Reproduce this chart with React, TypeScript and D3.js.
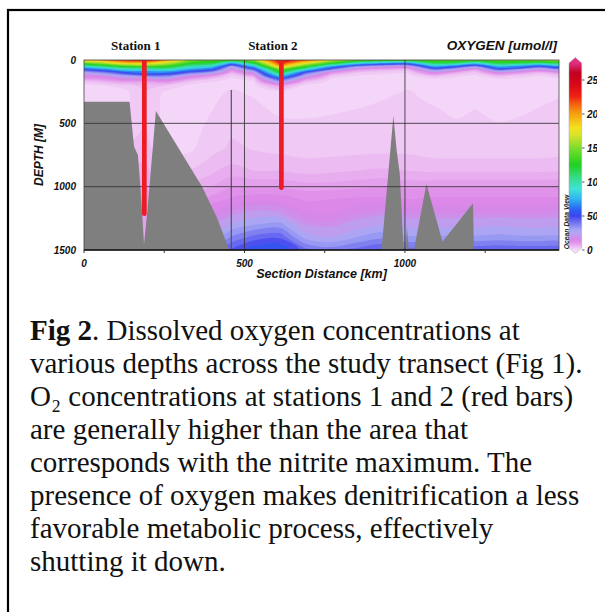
import React from "react";
import * as d3 from "d3";

// ODV section grid: distance columns (km) and depth rows (m)
const sectionKm = [0, 60, 120, 190, 260, 330, 400, 460, 530, 610, 690, 770, 850, 930, 1010, 1090, 1160, 1220, 1290, 1360, 1420, 1480];
const sectionDepth = [0, 25, 50, 75, 100, 125, 150, 175, 200, 250, 300, 400, 500, 600, 700, 800, 900, 1000, 1100, 1200, 1300, 1400, 1500];

// oxygen (umol/l) read along each depth row
const o2At0 = [190, 205, 225, 240, 200, 155, 140, 140, 160, 240, 215, 170, 145, 140, 140, 140, 145, 145, 145, 150, 155, 160];
const o2At25 = [140, 160, 185, 185, 165, 130, 120, 70, 120, 225, 175, 130, 90, 70, 65, 115, 110, 85, 120, 115, 105, 115];
const o2At50 = [90, 110, 130, 140, 130, 100, 85, 30, 80, 195, 135, 75, 35, 22, 20, 75, 55, 35, 80, 68, 48, 68];
const o2At75 = [50, 65, 85, 85, 95, 70, 55, 14, 45, 150, 90, 38, 11, 7, 6, 38, 22, 9, 45, 30, 18, 30];
const o2At100 = [25, 35, 50, 65, 60, 42, 28, 6, 20, 120, 45, 11, 4, 2.5, 2.2, 15, 7, 3, 15, 9, 5, 9];
const o2At125 = [15, 18, 28, 38, 38, 18, 10, 2.5, 9, 85, 25, 4, 1.8, 1.5, 1.4, 5, 2.5, 1.6, 5, 3, 2, 3];
const o2At150 = [9, 11, 15, 16, 20, 9, 4, 1.5, 3, 50, 11, 1.8, 1.3, 1.2, 1.1, 2, 1.4, 1.2, 2, 1.6, 1.4, 1.6];
const o2At175 = [3, 5, 8, 8, 10, 3, 2, 1.3, 1.5, 25, 4, 1.3, 1.1, 1, 1.1, 1.4, 1.1, 1, 1.4, 1.2, 1.1, 1.3];
const o2At200 = [1.5, 2, 3, 5, 4, 1.5, 1.5, 1.6, 1.3, 9, 1.5, 1.1, 1, 1, 1.6, 1.2, 1, 1, 1.2, 1.1, 1, 1.2];
const o2At250 = [1, 1, 1.2, 4, 1.5, 1, 1.2, 2.3, 1.5, 1.5, 1.2, 1, 1, 1.3, 2.2, 1.1, 1, 1, 1, 1, 1.1, 1.5];
const o2At300 = [1, 1, 1, 4, 1, 1, 1.5, 2.8, 2, 1.2, 1, 1, 1.3, 1.9, 2.4, 1.5, 1, 1.3, 1, 1.1, 1.5, 2];
const o2At400 = [1, 1, 1.2, 4, 1, 1, 2, 3.3, 2.6, 1.6, 1.5, 1.8, 2.1, 2.4, 2.6, 2.3, 1.5, 2.1, 1.3, 1.7, 2.2, 2.4];
const o2At500 = [1.5, 1.5, 2, 4, 1, 1, 2.5, 3.6, 3, 2.4, 2.3, 2.4, 2.5, 2.7, 2.8, 2.7, 2.3, 2.6, 2.1, 2.4, 2.5, 2.6];
const o2At600 = [2.5, 2.5, 3, 4.5, 1.2, 1.2, 3, 3.9, 3.4, 3, 2.8, 2.8, 2.9, 3, 3.1, 3, 2.8, 2.9, 2.7, 2.8, 2.8, 2.9];
const o2At700 = [3.5, 3.5, 4, 5, 1.5, 1.6, 3.5, 4.3, 3.9, 3.6, 3.4, 3.4, 3.5, 3.5, 3.6, 3.4, 3.3, 3.3, 3.3, 3.3, 3.3, 3.4];
const o2At800 = [5, 5, 5, 6, 2.5, 3, 4.5, 5.5, 4.6, 4.5, 4.2, 4.3, 4.5, 4.8, 4.5, 4.2, 4.2, 4.2, 4.2, 4.2, 4.2, 4.3];
const o2At900 = [7, 7, 7, 7, 4, 4.5, 6, 7.5, 6.5, 6.5, 6, 6.2, 6.5, 7, 6.5, 6.3, 6.3, 6.3, 6.3, 6.3, 6.3, 6.4];
const o2At1000 = [10, 10, 10, 8, 6, 6.5, 8, 10, 10, 10, 9, 9, 9.5, 10, 9.5, 9.8, 9.8, 9.8, 9.8, 9.8, 9.8, 9.8];
const o2At1100 = [13, 13, 13, 9, 8, 9, 11, 13, 14, 14, 12, 12.5, 13, 13, 12.5, 13, 13, 13, 13, 13, 13, 13];
const o2At1200 = [15, 15, 15, 9, 10, 11, 15, 18, 21, 20, 15, 14, 17, 18, 17, 17, 17, 17, 17, 17, 17, 17];
const o2At1300 = [18, 18, 18, 8, 12, 14, 20, 26, 30, 32, 20, 19, 22, 25, 23, 23, 23, 23, 24, 23, 23, 23];
const o2At1400 = [22, 22, 22, 7.5, 15, 18, 26, 36, 42, 44, 28, 25, 30, 34, 31, 31, 31, 31, 32, 31, 31, 31];
const o2At1500 = [26, 26, 26, 7, 18, 22, 34, 46, 54, 56, 42, 38, 42, 46, 42, 44, 44, 44, 45, 44, 44, 44];

const oxygenRows = [o2At0, o2At25, o2At50, o2At75, o2At100, o2At125, o2At150, o2At175, o2At200, o2At250, o2At300,
  o2At400, o2At500, o2At600, o2At700, o2At800, o2At900, o2At1000, o2At1100, o2At1200, o2At1300, o2At1400, o2At1500];

// bottom topography
const floorKm = [0, 142, 156, 168, 174, 181, 187, 193, 197, 224, 368, 413, 433, 452, 927, 964, 974, 984, 991, 995, 1002, 1006, 1012, 1028, 1067, 1117, 1212, 1215, 1480];
const floorDepth = [330, 330, 684, 750, 947, 1208, 1455, 1300, 1210, 402, 1000, 1237, 1368, 1500, 1500, 440, 710, 900, 1260, 1500, 1500, 1320, 1500, 1500, 979, 1434, 1131, 1500, 1500];

const stationNames = ["Station 1", "Station 2"];
const stationKm = [188, 615];
const stationBottom = [1231, 1026];

const xTicks = [0, 500, 1000];
const xMinorTicks = [250, 750, 1250];
const yTicks = [0, 500, 1000, 1500];
const colorTicks = [0, 50, 100, 150, 200, 250];

const oxygenLevels = [2, 4, 6, 8, 10, 12.5, 15, 17.5, 20, 25, 30, 35, 40, 45, 50, 60, 75, 90, 105, 120, 135, 150, 165, 180, 195, 210, 225, 240];
const paletteStops = [0, 2, 4, 6, 8, 10, 13, 17, 21, 25, 30, 35, 40, 45, 50, 60, 75, 90, 105, 125, 150, 170, 180, 200, 215, 225, 240, 260, 275];
const paletteColors = ["#f5dcf9", "#f2cff6", "#eec2f3", "#eab4f0", "#e6a6ee", "#e298eb", "#dc88e8", "#d488e8", "#c498ec", "#b4a4f2",
  "#a4a6f4", "#8c8cf2", "#7474f0", "#5c5cf0", "#3c44ee", "#2a64f0", "#30b4f2", "#40e2d8", "#38dc90", "#20d020", "#7cdc2c",
  "#dce428", "#f4e020", "#f8a010", "#f46010", "#f02414", "#dc0c18", "#c00020", "#e03080"];

const captionLines = [
  "various depths across the study transect (Fig 1).",
  "O\u2082 concentrations at stations 1 and 2 (red bars)",
  "are generally higher than the area that",
  "corresponds with the nitrite maximum. The",
  "presence of oxygen makes denitrification a less",
  "favorable metabolic process, effectively",
  "shutting it down.",
];

const sans = "'Liberation Sans', Arial, sans-serif";
const serif = "'Liberation Serif', 'Times New Roman', serif";

export default function App() {
  const x = d3.scaleLinear().domain([0, 1480]).range([84, 559]);
  const y = d3.scaleLinear().domain([0, 1500]).range([60, 250]);
  const cb = d3.scaleLinear().domain([0, 250]).range([250, 80]);
  const color = d3.scaleLinear<string>().domain(paletteStops).range(paletteColors).interpolate(d3.interpolateRgb).clamp(true);

  // filled contours on the section grid
  const nx = sectionKm.length;
  const ny = sectionDepth.length;
  const kmAt = d3.scaleLinear().domain(d3.range(nx)).range(sectionKm);
  const depthAt = d3.scaleLinear().domain(d3.range(ny)).range(sectionDepth);
  const bands = d3.contours().size([nx, ny]).thresholds(oxygenLevels)(oxygenRows.flat());
  const ringLine = d3.line<number[]>()
    .x((p) => x(kmAt(p[0] - 0.5)))
    .y((p) => y(depthAt(p[1] - 0.5)))
    .curve(d3.curveCatmullRomClosed.alpha(0.5));
  const bandPath = (b: any) =>
    b.coordinates.map((poly: number[][][]) => poly.map((ring) => ringLine(ring.slice(0, -1))).join("")).join("");
  const bandColor = (i: number) => {
    const lo = oxygenLevels[i];
    const hi = i < oxygenLevels.length - 1 ? oxygenLevels[i + 1] : lo + 15;
    return color((lo + hi) / 2);
  };

  const floorArea = d3.area<number>()
    .x((d, i) => x(floorKm[i]))
    .y0(y(1500))
    .y1((d) => y(d));

  const top = y(0), bottom = y(1500), left = x(0), right = x(1480);

  return (
    <svg width={605} height={612} style={{ position: "absolute", left: 0, top: 0, background: "#fff" }}>
      <defs>
        <clipPath id="plot">
          <rect x={left} y={top} width={right - left} height={bottom - top} />
        </clipPath>
        <clipPath id="edge">
          <rect x={0} y={0} width={597} height={612} />
        </clipPath>
        <linearGradient id="cbar" gradientUnits="userSpaceOnUse" x1={0} x2={0} y1={cb(0)} y2={cb(275)}>
          {d3.range(0, 276, 5).map((v) => (
            <stop key={v} offset={v / 275} stopColor={color(v)} />
          ))}
        </linearGradient>
      </defs>

      <rect x={8} y={10} width={640} height={640} fill="none" stroke="#000" strokeWidth={2.2} />

      <g clipPath="url(#plot)">
        <rect x={left} y={top} width={right - left} height={bottom - top} fill={color(1)} />
        {bands.map((b, i) => (
          <path key={i} d={bandPath(b)} fill={bandColor(i)} fillRule="evenodd" />
        ))}
        <path d={floorArea(floorDepth) || ""} fill="#7f7f7f" />
        <line x1={x(459)} x2={x(459)} y1={y(237)} y2={bottom} stroke="#555" strokeWidth={1.2} />
        {[500, 1000].map((v) => (
          <line key={"gx" + v} x1={x(v)} x2={x(v)} y1={top} y2={bottom} stroke="#333" strokeWidth={1} opacity={0.85} />
        ))}
        {[500, 1000].map((v) => (
          <line key={"gy" + v} x1={left} x2={right} y1={y(v)} y2={y(v)} stroke="#333" strokeWidth={1} opacity={0.85} />
        ))}
        {stationKm.map((s, i) => (
          <line key={s} x1={x(s)} x2={x(s)} y1={top - 5} y2={y(stationBottom[i]) - 2.3} stroke="#ed1c24" strokeWidth={4.7} strokeLinecap="round" />
        ))}
      </g>
      <rect x={left} y={top} width={right - left} height={bottom - top} fill="none" stroke="#444" strokeWidth={0.8} />
      <line x1={left} x2={right} y1={bottom} y2={bottom} stroke="#111" strokeWidth={1.6} />

      {xTicks.concat(xMinorTicks).map((v) => (
        <line key={"t" + v} x1={x(v)} x2={x(v)} y1={bottom} y2={bottom + 3} stroke="#333" strokeWidth={1} />
      ))}
      <g fontFamily={sans} fontWeight="bold" fontStyle="italic" fontSize={10} fill="#111">
        {xTicks.map((v) => (
          <text key={v} x={x(v)} y={266.5} textAnchor="middle">{v}</text>
        ))}
        {yTicks.map((v) => (
          <text key={v} x={76} y={y(v) + 3.6} textAnchor="end">{v}</text>
        ))}
      </g>
      <text x={(left + right) / 2} y={278} textAnchor="middle" fontFamily={sans} fontWeight="bold" fontStyle="italic" fontSize={12.5} fill="#111">
        Section Distance [km]
      </text>
      <text transform={`translate(43,${(top + bottom) / 2}) rotate(-90)`} textAnchor="middle" fontFamily={sans} fontWeight="bold" fontStyle="italic" fontSize={12} fill="#111">
        DEPTH [M]
      </text>

      {stationNames.map((name, i) => (
        <text key={name} x={x(stationKm[i]) - 8.5} y={50} textAnchor="middle" fontFamily={serif} fontWeight="bold" fontSize={13} fill="#111">
          {name}
        </text>
      ))}
      <text x={557} y={50} textAnchor="end" fontFamily={sans} fontWeight="bold" fontStyle="italic" fontSize={13.5} fill="#111">
        OXYGEN [umol/l]
      </text>

      {/* colour bar */}
      <path
        d={`M569,${cb(275)} L575.3,${cb(275) - 5.5} L581.7,${cb(275)} V${cb(3)} L575.3,${cb(0) + 3.5} L569,${cb(3)} Z`}
        fill="url(#cbar)" stroke="#aaa" strokeWidth={0.5}
      />
      <text transform="translate(568.5,222) rotate(-90)" textAnchor="middle" fontFamily={sans} fontWeight="bold" fontStyle="italic" fontSize={6.8} fill="#222">
        Ocean Data View
      </text>
      <g clipPath="url(#edge)" fontFamily={sans} fontWeight="bold" fontStyle="italic" fontSize={10} fill="#111">
        {colorTicks.map((v) => (
          <g key={v}>
            <line x1={582} x2={584.5} y1={cb(v)} y2={cb(v)} stroke="#333" strokeWidth={0.8} />
            <text x={587} y={cb(v) + 3.6}>{v}</text>
          </g>
        ))}
      </g>

      {/* caption */}
      <g fontFamily={serif} fontSize={29} fill="#111">
        <text x={30} y={340}>
          <tspan fontWeight="bold">Fig 2</tspan>. Dissolved oxygen concentrations at
        </text>
        {captionLines.map((line, i) => (
          <text key={i} x={30} y={373 + i * 33}>{line}</text>
        ))}
      </g>
    </svg>
  );
}
